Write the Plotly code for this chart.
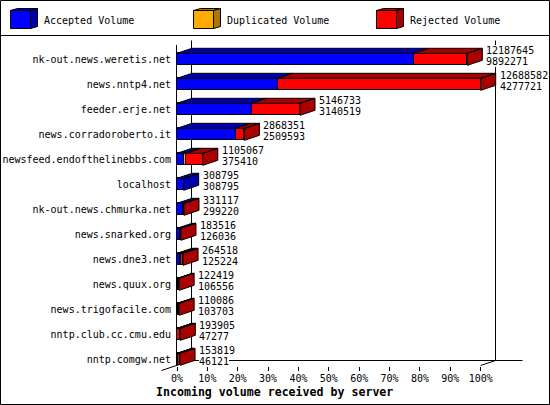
import plotly.graph_objects as go

servers = ["nk-out.news.weretis.net", "news.nntp4.net", "feeder.erje.net", "news.corradoroberto.it",
           "newsfeed.endofthelinebbs.com", "localhost", "nk-out.news.chmurka.net", "news.snarked.org",
           "news.dne3.net", "news.quux.org", "news.trigofacile.com", "nntp.club.cc.cmu.edu", "nntp.comgw.net"]
accepted_pct = [78.0, 33.3, 24.6, 19.5, 2.4, 2.2, 2.1, 1.1, 1.1, 0.4, 0.4, 0.1, 0.2]
duplicated_pct = [0, 0, 0, 0, 0.6, 0, 0, 0, 0.2, 0, 0, 0, 0.1]
rejected_pct = [17.6, 66.7, 15.9, 2.7, 5.5, 0, 0.2, 0.2, 0.7, 0.3, 0.3, 1.0, 0.7]
label_top = ["12187645", "12688582", "5146733", "2868351", "1105067", "308795", "331117",
             "183516", "264518", "122419", "110086", "193905", "153819"]
label_bottom = ["9892271", "4277721", "3140519", "2509593", "375410", "308795", "299220",
                "126036", "125224", "106556", "103703", "47277", "46121"]
series_names = ["Accepted Volume", "Duplicated Volume", "Rejected Volume"]
tick_pct = [0, 10, 20, 30, 40, 50, 60, 70, 80, 90, 100]

W, H = 550, 405
FRONT = ["#0000ff", "#ffaa00", "#ff0000"]
DARK = ["#0000aa", "#aa7700", "#aa0000"]
MONO = "DejaVu Sans Mono"
BAR_H = 0.48
PX_PER_PCT = 3.037
DX = 15 / PX_PER_PCT   # depth in axis units
DY = 5 / 25
AXIS_L, AXIS_R = 177, 543

def px(x): return x / W
def py(y): return 1 - y / H

rows = list(range(len(servers)))
fig = go.Figure()
series = [accepted_pct, duplicated_pct, rejected_pct]

for s, vals in enumerate(series):
    fig.add_bar(y=rows, x=vals, orientation="h", name=series_names[s], width=BAR_H,
                marker=dict(color=FRONT[s], line=dict(color="black", width=1)),
                showlegend=False, cliponaxis=False)

for s, vals in enumerate(series):
    xs, ys = [], []
    for r in rows:
        if vals[r] == 0:
            continue
        x0 = sum(series[k][r] for k in range(s))
        x1 = x0 + vals[r]
        t = r - BAR_H / 2
        b = r + BAR_H / 2
        xs += [x0, x1, x1 + DX, x0 + DX, x0, None]
        ys += [t, t, t - DY, t - DY, t, None]
        if all(series[k][r] == 0 for k in range(s + 1, 3)):
            xs += [x1, x1 + DX, x1 + DX, x1, x1, None]
            ys += [t, t - DY, b - DY, b, t, None]
    fig.add_scatter(x=xs, y=ys, mode="lines", fill="toself", fillcolor=DARK[s],
                    line=dict(color="black", width=1), hoverinfo="skip",
                    showlegend=False, cliponaxis=False)

ann = []
for r in rows:
    end = accepted_pct[r] + duplicated_pct[r] + rejected_pct[r]
    for txt, shift in ((label_top[r], 9.3), (label_bottom[r], -1.7)):
        ann.append(dict(x=end, y=r, xref="x", yref="y", text=txt, showarrow=False,
                        xanchor="left", yanchor="middle", xshift=19, yshift=shift,
                        bgcolor="white", borderpad=0, borderwidth=0,
                        font=dict(family=MONO, size=10, color="black")))

ann.append(dict(x=px(274), y=py(392), xref="paper", yref="paper", text="<b>Incoming volume received by server</b>",
                showarrow=False, xanchor="center", yanchor="middle",
                font=dict(family=MONO, size=11.6, color="black")))

shapes = []
def line(x0, y0, x1, y1, layer="below"):
    shapes.append(dict(type="line", xref="paper", yref="paper", x0=px(x0), y0=py(y0), x1=px(x1), y1=py(y1),
                       line=dict(color="black", width=1), layer=layer))
def poly(pts, fill):
    path = "M " + " L ".join(f"{px(a)} {py(b)}" for a, b in pts) + " Z"
    shapes.append(dict(type="path", xref="paper", yref="paper", path=path, fillcolor=fill,
                       line=dict(color="black", width=1), layer="above"))

# frame
line(0.5, 0.5, 549.5, 0.5, "above"); line(0.5, 404.5, 549.5, 404.5, "above")
line(0.5, 0.5, 0.5, 404.5, "above"); line(549.5, 0.5, 549.5, 404.5, "above")
line(0.5, 35.5, 549.5, 35.5, "above")
# back wall and floor
line(191.5, 40.5, 191.5, 360.5)
line(495.5, 40.5, 495.5, 360.5)
line(191.5, 360.5, 522.5, 360.5)
line(161.5, 370.5, 191.5, 360.5)
line(480.5, 365.5, 495.5, 360.5)

# legend swatches
for s, x in enumerate((10.5, 193.5, 376.5)):
    poly([(x, 10.5), (x + 7, 8.5), (x + 27, 8.5), (x + 20, 10.5)], DARK[s])
    poly([(x + 20, 10.5), (x + 27, 8.5), (x + 27, 26.5), (x + 20, 28.5)], DARK[s])
    poly([(x, 10.5), (x + 20, 10.5), (x + 20, 28.5), (x, 28.5)], FRONT[s])
    ann.append(dict(x=px(x + 31.7), y=py(20), xref="paper", yref="paper", text=series_names[s], showarrow=False,
                    xanchor="left", yanchor="middle", font=dict(family=MONO, size=10, color="black")))

fig.update_layout(
    width=W, height=H, margin=dict(l=0, r=0, t=0, b=0, pad=0, autoexpand=False), autosize=False,
    paper_bgcolor="white", plot_bgcolor="white", barmode="stack", bargap=0,
    showlegend=False, shapes=shapes, annotations=ann,
    xaxis=dict(domain=[px(AXIS_L), px(AXIS_R)], range=[0, (AXIS_R - AXIS_L) / PX_PER_PCT], tickvals=tick_pct,
               ticktext=[f"{v}%" for v in tick_pct], ticks="outside", ticklen=4, tickwidth=1, tickcolor="black",
               showline=False, showgrid=False, zeroline=False, anchor="y", ticklabelstandoff=-1,
               tickfont=dict(family=MONO, size=10, color="black")),
    yaxis=dict(domain=[py(366), py(45)], range=[12.268, -0.572], tickvals=rows, ticktext=servers,
               ticks="", showline=True, linecolor="black", linewidth=1, showgrid=False, zeroline=False,
               anchor="x", ticklabelstandoff=3, tickfont=dict(family=MONO, size=10, color="black")),
)

fig.write_html("out.html", config={"displayModeBar": False},
               post_script="document.body.style.margin='0';document.documentElement.style.overflow='hidden';")
